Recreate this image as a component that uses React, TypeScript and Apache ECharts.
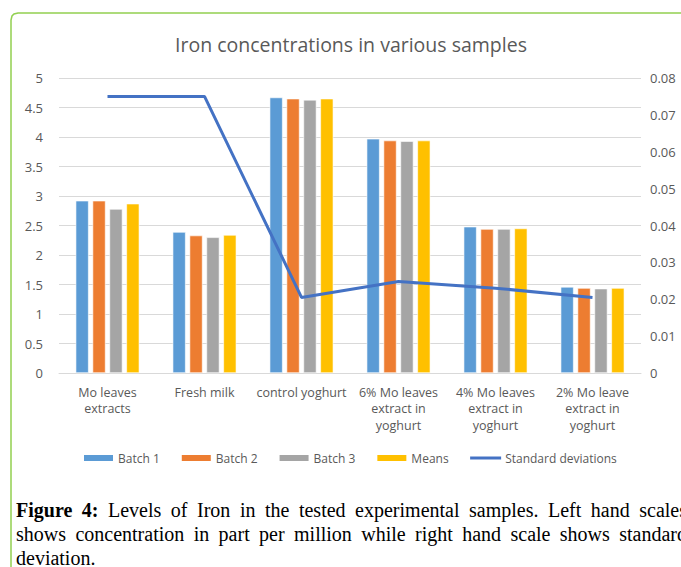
import React, { useEffect, useRef } from "react";
import * as echarts from "echarts";

const categories = [
  "Mo leaves\nextracts",
  "Fresh milk",
  "control yoghurt",
  "6% Mo leaves\nextract in\nyoghurt",
  "4% Mo leaves\nextract in\nyoghurt",
  "2% Mo leave\nextract in\nyoghurt",
];
const batch1 = [2.92, 2.39, 4.67, 3.97, 2.48, 1.46];
const batch2 = [2.92, 2.33, 4.65, 3.94, 2.44, 1.44];
const batch3 = [2.78, 2.3, 4.63, 3.93, 2.44, 1.43];
const means = [2.87, 2.34, 4.65, 3.94, 2.45, 1.44];
const stdDev = [0.075, 0.075, 0.0205, 0.0248, 0.023, 0.0205];

const FONT = "'Open Sans', sans-serif";
const TXT = "#595959";
const SERIF = "'Liberation Serif', 'Times New Roman', serif";

export default function App() {
  const ref = useRef<HTMLDivElement>(null);
  useEffect(() => {
    if (!ref.current) return;
    const chart = echarts.init(ref.current, undefined, { renderer: "svg" });
    const barCommon = {
      type: "bar",
      barWidth: 13,
      barGap: "30%",
      barCategoryGap: "33%",
      itemStyle: { borderColor: "#ffffff", borderWidth: 0.6 },
    };
    chart.setOption({
      animation: false,
      backgroundColor: "#ffffff",
      textStyle: { fontFamily: FONT },
      title: {
        text: "Iron concentrations in various samples",
        left: 351,
        textAlign: "center",
        top: 34,
        padding: 0,
        textStyle: { fontFamily: FONT, fontSize: 19.5, fontWeight: "normal", color: TXT },
      },
      grid: { left: 59, right: 40, top: 78, bottom: 194, containLabel: false, outerBoundsMode: "none" },
      legend: {
        top: 452,
        left: 82,
        padding: 0,
        itemWidth: 31,
        itemHeight: 8,
        itemGap: 20,
        textStyle: { fontFamily: FONT, fontSize: 12, color: TXT, padding: [0, 0, 0, -1] },
        data: [
          { name: "Batch 1", icon: "rect" },
          { name: "Batch 2", icon: "rect" },
          { name: "Batch 3", icon: "rect" },
          { name: "Means", icon: "rect" },
          { name: "Standard deviations", itemStyle: { opacity: 0 }, lineStyle: { width: 3, color: "#4472C4" } },
        ],
      },
      xAxis: {
        type: "category",
        data: categories,
        axisLine: { lineStyle: { color: "#d9d9d9" } },
        axisTick: { show: false },
        axisLabel: {
          color: TXT,
          fontFamily: FONT,
          fontSize: 12.5,
          lineHeight: 16.5,
          margin: 11,
          interval: 0,
        },
      },
      yAxis: [
        {
          type: "value",
          min: 0,
          max: 5,
          interval: 0.5,
          axisLine: { show: false },
          axisTick: { show: false },
          splitLine: { lineStyle: { color: "#d9d9d9" } },
          axisLabel: { color: TXT, fontFamily: FONT, fontSize: 13, margin: 16 },
        },
        {
          type: "value",
          min: 0,
          max: 0.08,
          interval: 0.01,
          position: "right",
          axisLine: { show: false },
          axisTick: { show: false },
          splitLine: { show: false },
          axisLabel: { color: TXT, fontFamily: FONT, fontSize: 13, margin: 9 },
        },
      ],
      series: [
        { ...barCommon, name: "Batch 1", data: batch1, color: "#5B9BD5" },
        { ...barCommon, name: "Batch 2", data: batch2, color: "#ED7D31" },
        { ...barCommon, name: "Batch 3", data: batch3, color: "#A5A5A5" },
        { ...barCommon, name: "Means", data: means, color: "#FFC000" },
        {
          type: "line",
          name: "Standard deviations",
          yAxisIndex: 1,
          data: stdDev,
          symbol: "none",
          color: "#4472C4",
          lineStyle: { color: "#4472C4", width: 3 },
        },
      ],
      graphic: [
        {
          type: "polyline",
          shape: {
            points: [
              [11, 567],
              [11, 20],
              [12, 16],
              [14, 14],
              [18, 13],
              [690, 13],
            ],
          },
          style: { stroke: "#92D050", lineWidth: 1.5, fill: "none" },
          silent: true,
        },
      ],
    });
    return () => chart.dispose();
  }, []);
  const lineStyle: React.CSSProperties = {
    whiteSpace: "nowrap",
    textAlign: "justify",
    textAlignLast: "justify",
    width: 671,
  };
  return (
    <div style={{ position: "absolute", left: 0, top: 0, width: 681, height: 567, overflow: "hidden" }}>
      <div ref={ref} style={{ position: "absolute", left: 0, top: 0, width: 681, height: 567 }} />
      <div
        style={{
          position: "absolute",
          left: 16,
          top: 498,
          width: 671,
          fontFamily: SERIF,
          fontSize: 20,
          lineHeight: "24px",
          color: "#000",
        }}
      >
        <div style={lineStyle}>
          <b>Figure 4:</b> Levels of Iron in the tested experimental samples. Left hand scales
        </div>
        <div style={lineStyle}>
          shows concentration in part per million while right hand scale shows standard
        </div>
        <div>deviation.</div>
      </div>
    </div>
  );
}
